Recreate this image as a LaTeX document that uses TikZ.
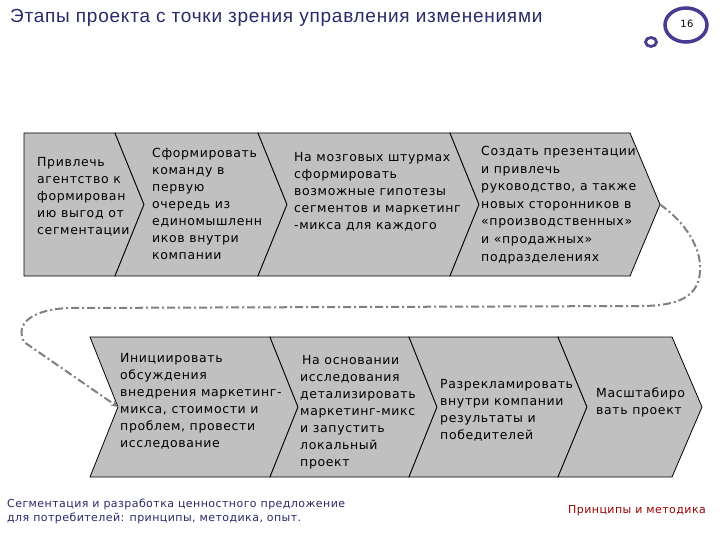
\documentclass[tikz,border=0pt]{standalone}
\usepackage{fontspec}
\setmainfont{DejaVu Sans}[LetterSpace=5]
\newfontfamily\titlefont{Liberation Sans}[LetterSpace=4]
\newfontfamily\footfont{DejaVu Sans}[LetterSpace=4]
\usetikzlibrary{arrows.meta}
\definecolor{boxgray}{HTML}{C0C0C0}
\definecolor{navy}{HTML}{2A2A6A}
\definecolor{ringc}{HTML}{4A3A90}
\definecolor{dkred}{HTML}{990000}
\definecolor{flowgray}{HTML}{808080}
\begin{document}
\begin{tikzpicture}[x=1pt,y=-1pt,
  chev/.style={draw=black, fill=boxgray, line width=0.8pt, line join=miter},
  btxt/.style={anchor=north west, inner sep=0pt, align=left, font=\fontsize{12.5}{17}\selectfont},
  flow/.style={draw=flowgray, line width=2pt, dash pattern=on 8pt off 3pt on 2pt off 3pt},
  ring/.style={draw=ringc, line width=3.5pt}
]
\useasboundingbox[fill=white] (0,0) rectangle (720,540);

% title
\node[anchor=west, inner sep=0pt, text=navy, font=\titlefont\fontsize{19}{21}\selectfont] (title) at (10,18) {Этапы проекта с точки зрения управления изменениями};

% page number
\draw[ring] (686,25) ellipse [x radius=21, y radius=17];
\draw[ring, line width=2.8pt] (651,42) ellipse [x radius=5.5, y radius=4.5];
\node[inner sep=0pt, font=\footfont\fontsize{10}{12}\selectfont] (pagenum) at (687,24) {16};

% top row
\draw[chev] (24,133) -- (115,133) -- (144,204.5) -- (115,276) -- (24,276) -- cycle;
\draw[chev] (115,133) -- (258,133) -- (287,204.5) -- (258,276) -- (115,276) -- (144,204.5) -- cycle;
\draw[chev] (258,133) -- (450,133) -- (479,204.5) -- (450,276) -- (258,276) -- (287,204.5) -- cycle;
\draw[chev] (450,133) -- (630,133) -- (660,204.5) -- (630,276) -- (450,276) -- (479,204.5) -- cycle;
\coordinate (toptip) at (660,204.5);

% bottom row
\draw[chev] (90,337) -- (270,337) -- (298,407) -- (270,477) -- (90,477) -- (118,407) -- cycle;
\draw[chev] (270,337) -- (409,337) -- (437,407) -- (409,477) -- (270,477) -- (298,407) -- cycle;
\draw[chev] (409,337) -- (558,337) -- (587,407) -- (558,477) -- (409,477) -- (437,407) -- cycle;
\draw[chev] (558,337) -- (672,337) -- (702,407) -- (672,477) -- (558,477) -- (587,407) -- cycle;
\coordinate (botnotch) at (118,407);

% texts top
\node[btxt] (t1) at (37,157) {Привлечь\\агентство к\\формирован\\ию выгод от\\сегментации};
\node[btxt] (t2) at (152,148) {Сформировать\\команду в\\первую\\очередь из\\единомышленн\\иков внутри\\компании};
\node[btxt] (t3) at (294,152) {На мозговых штурмах\\сформировать\\возможные гипотезы\\сегментов и маркетинг\\-микса для каждого};
\node[btxt, font=\fontsize{12.5}{17.6}\selectfont] (t4) at (481,146) {Создать презентации\\и привлечь\\руководство, а также\\новых сторонников в\\«производственных»\\и «продажных»\\подразделениях};

% texts bottom
\node[btxt] (b1) at (120,353) {Инициировать\\обсуждения\\внедрения маркетинг-\\микса, стоимости и\\проблем, провести\\исследование};
\node[btxt] (b2) at (300,355) {\hspace{2pt}На основании\\исследования\\детализировать\\маркетинг-микс\\и запустить\\локальный\\проект};
\node[btxt] (b3) at (440,379) {Разрекламировать\\внутри компании\\результаты и\\победителей};
\node[btxt] (b4) at (596,388) {Масштабиро\\вать проект};

% flow connector
\draw[flow, -{Stealth[length=7pt,width=6pt]}] (toptip) .. controls (685,222) and (702,248) .. (700,272)
  .. controls (698,296) and (680,306) .. (640,306) -- (70,308)
  .. controls (35,309) and (14,322) .. (24,342) -- (botnotch);

% footer
\node[anchor=north west, inner sep=0pt, align=left, text=navy, font=\footfont\fontsize{11}{14}\selectfont] (foot) at (7,499) {Сегментация и разработка ценностного предложение\\для потребителей: принципы, методика, опыт.};
\node[anchor=west, inner sep=0pt, text=dkred, font=\footfont\fontsize{11}{12}\selectfont] (foot2) at (568,511) {Принципы и методика};
\end{tikzpicture}
\end{document}
